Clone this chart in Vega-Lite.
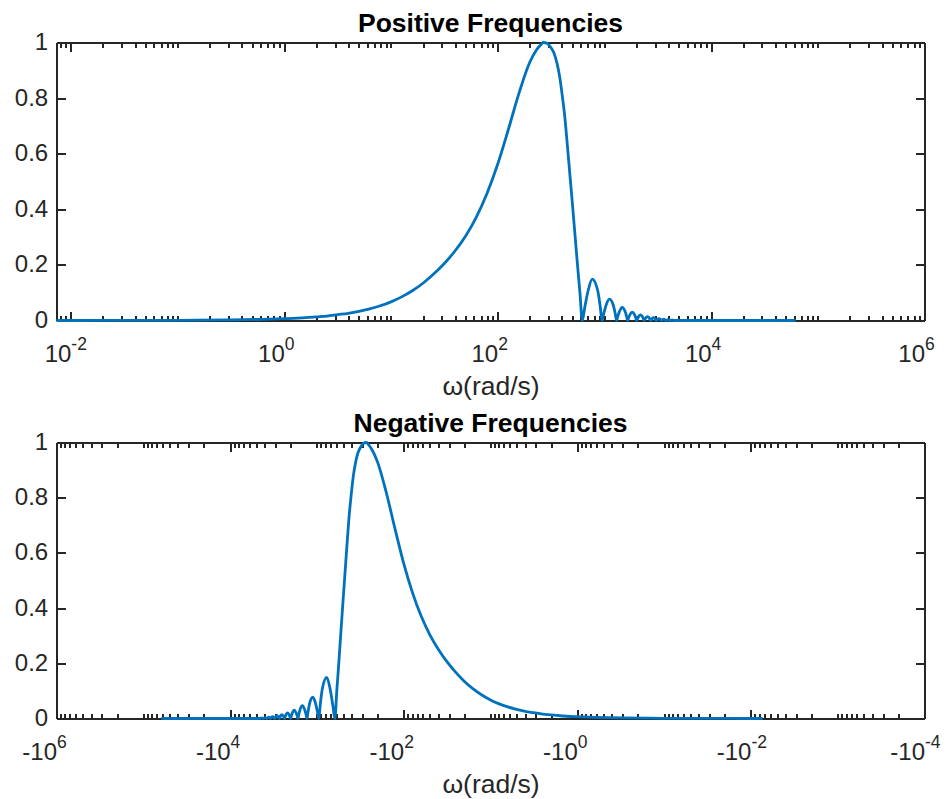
{
  "$schema": "https://vega.github.io/schema/vega-lite/v6.json",
  "background": "white",
  "padding": {"left": 13.5, "top": 10.5, "right": 5, "bottom": 5},
  "spacing": 122,
  "bounds": "flush",
  "config": {
    "font": "Liberation Sans",
    "view": {"stroke": null},
    "line": {"interpolate": "monotone"},
    "axis": {
      "grid": false,
      "domainColor": "#262626",
      "domainWidth": 2,
      "tickColor": "#262626",
      "tickWidth": 2,
      "labelColor": "#262626",
      "labelFont": "Liberation Sans",
      "labelFontSize": 24,
      "labelFlush": false,
      "labelOverlap": false,
      "titleFont": "Liberation Sans",
      "titleFontSize": 26.5,
      "titleFontWeight": "normal",
      "titleColor": "#262626"
    },
    "title": {"font": "Liberation Sans", "fontSize": 26.5, "fontWeight": "bold", "color": "#000000", "baseline": "alphabetic", "offset": -7.3, "anchor": "middle", "frame": "group"}
  },
  "datasets": {
    "spectrum": [
      {"w": 0.00734, "mag": 0.00005}, {"w": 0.01, "mag": 0.00007}, {"w": 0.03, "mag": 0.0002}, {"w": 0.1, "mag": 0.0007},
      {"w": 0.316, "mag": 0.002}, {"w": 0.631, "mag": 0.0042}, {"w": 1, "mag": 0.0065}, {"w": 1.585, "mag": 0.010},
      {"w": 2, "mag": 0.013}, {"w": 2.512, "mag": 0.016}, {"w": 3.162, "mag": 0.021}, {"w": 3.981, "mag": 0.026},
      {"w": 5.012, "mag": 0.033}, {"w": 6.31, "mag": 0.042}, {"w": 7.943, "mag": 0.053}, {"w": 10, "mag": 0.067},
      {"w": 12.59, "mag": 0.085}, {"w": 15.85, "mag": 0.107}, {"w": 19.95, "mag": 0.134}, {"w": 25.12, "mag": 0.167},
      {"w": 31.62, "mag": 0.205}, {"w": 39.81, "mag": 0.25}, {"w": 50.12, "mag": 0.304}, {"w": 63.1, "mag": 0.372},
      {"w": 79.43, "mag": 0.457}, {"w": 100, "mag": 0.562}, {"w": 125.9, "mag": 0.687}, {"w": 158.5, "mag": 0.818},
      {"w": 199.5, "mag": 0.928}, {"w": 230, "mag": 0.972}, {"w": 251.2, "mag": 0.99}, {"w": 268, "mag": 1.0},
      {"w": 290, "mag": 0.997}, {"w": 315, "mag": 0.982}, {"w": 337, "mag": 0.962}, {"w": 360, "mag": 0.925},
      {"w": 380, "mag": 0.88}, {"w": 404, "mag": 0.806}, {"w": 425, "mag": 0.735}, {"w": 450, "mag": 0.63},
      {"w": 475, "mag": 0.525}, {"w": 501, "mag": 0.422}, {"w": 530, "mag": 0.31}, {"w": 558, "mag": 0.206},
      {"w": 590, "mag": 0.1}, {"w": 621, "mag": 0},
      {"w": 654, "mag": 0.046}, {"w": 703, "mag": 0.106}, {"w": 770, "mag": 0.149}, {"w": 868, "mag": 0.106}, {"w": 917, "mag": 0.046}, {"w": 950, "mag": 0},
      {"w": 985, "mag": 0.024}, {"w": 1037, "mag": 0.055}, {"w": 1115, "mag": 0.077}, {"w": 1212, "mag": 0.055}, {"w": 1265, "mag": 0.024}, {"w": 1300, "mag": 0},
      {"w": 1335, "mag": 0.015}, {"w": 1387, "mag": 0.033}, {"w": 1465, "mag": 0.047}, {"w": 1562, "mag": 0.033}, {"w": 1615, "mag": 0.015}, {"w": 1650, "mag": 0},
      {"w": 1685, "mag": 0.009}, {"w": 1739, "mag": 0.021}, {"w": 1820, "mag": 0.03}, {"w": 1916, "mag": 0.021}, {"w": 1970, "mag": 0.009}, {"w": 2005, "mag": 0},
      {"w": 2093, "mag": 0.014}, {"w": 2175, "mag": 0.02}, {"w": 2271, "mag": 0.014}, {"w": 2360, "mag": 0},
      {"w": 2447, "mag": 0.01}, {"w": 2530, "mag": 0.014}, {"w": 2622, "mag": 0.01}, {"w": 2710, "mag": 0},
      {"w": 2797, "mag": 0.007}, {"w": 2880, "mag": 0.01}, {"w": 2972, "mag": 0.007}, {"w": 3060, "mag": 0},
      {"w": 3150, "mag": 0.005}, {"w": 3240, "mag": 0.007}, {"w": 3330, "mag": 0.005}, {"w": 3420, "mag": 0},
      {"w": 3600, "mag": 0.005}, {"w": 3780, "mag": 0}, {"w": 3960, "mag": 0.0035}, {"w": 4140, "mag": 0},
      {"w": 4320, "mag": 0.0025}, {"w": 4500, "mag": 0}, {"w": 5000, "mag": 0}, {"w": 10000, "mag": 0},
      {"w": 30000, "mag": 0}, {"w": 62000, "mag": 0}
    ]
  },
  "vconcat": [
    {
      "width": 868,
      "height": 278,
      "title": "Positive Frequencies",
      "data": {"name": "spectrum"},
      "resolve": {"axis": {"x": "independent", "y": "independent"}},
      "layer": [
        {
          "mark": {"type": "line", "color": "#0072BD", "strokeWidth": 2.8, "strokeJoin": "round"},
          "encoding": {
            "x": {"field": "w", "type": "quantitative",
              "scale": {"type": "log", "domain": [0.00734, 1000000], "nice": false},
              "axis": {"orient": "bottom", "values": [0.01, 1, 100, 10000, 1000000], "tickSize": -9,
                "labelExpr": "'10'", "labelAlign": "right", "labelDx": 5,
                "labelBaseline": "alphabetic", "labelPadding": 50,
                "title": "ω(rad/s)", "titleBaseline": "alphabetic", "titleY": 74}},
            "y": {"field": "mag", "type": "quantitative",
              "scale": {"domain": [0, 1], "nice": false, "zero": false},
              "axis": {"orient": "left", "values": [0, 0.2, 0.4, 0.6, 0.8, 1], "format": ".1~f", "tickSize": -9, "labelPadding": 17.8, "title": null}}
          }
        },
        {
          "mark": {"type": "line", "opacity": 0},
          "encoding": {
            "x": {"field": "w", "type": "quantitative",
              "scale": {"type": "log", "domain": [0.00734, 1000000], "nice": false},
              "axis": {"orient": "bottom", "domain": false, "title": null, "values": [0.01, 1, 100, 10000, 1000000], "tickSize": -9, "tickOpacity": 0,
                "labelExpr": "datum.value < 0.1 ? '-2' : datum.value < 10 ? '0' : datum.value < 1000 ? '2' : datum.value < 100000 ? '4' : '6'",
                "labelFontSize": 17.5, "labelAlign": "left", "labelDx": 5, "labelBaseline": "alphabetic", "labelPadding": 38.3}},
            "y": {"field": "mag", "type": "quantitative", "scale": {"domain": [0, 1], "nice": false, "zero": false}, "axis": null}
          }
        },
        {
          "mark": {"type": "line", "opacity": 0},
          "encoding": {
            "x": {"field": "w", "type": "quantitative",
              "scale": {"type": "log", "domain": [0.00734, 1000000], "nice": false},
              "axis": {"orient": "bottom", "domain": false, "labels": false, "title": null, "tickSize": -5,
                "values": [0.008, 0.009, 0.02, 0.03, 0.04, 0.05, 0.06, 0.07, 0.08, 0.09, 0.1, 0.2, 0.3, 0.4, 0.5, 0.6, 0.7, 0.8, 0.9, 2, 3, 4, 5, 6, 7, 8, 9, 10, 20, 30, 40, 50, 60, 70, 80, 90, 200, 300, 400, 500, 600, 700, 800, 900, 1000, 2000, 3000, 4000, 5000, 6000, 7000, 8000, 9000, 20000, 30000, 40000, 50000, 60000, 70000, 80000, 90000, 100000, 200000, 300000, 400000, 500000, 600000, 700000, 800000, 900000]}},
            "y": {"field": "mag", "type": "quantitative",
              "scale": {"domain": [0, 1], "nice": false, "zero": false},
              "axis": {"orient": "right", "values": [0, 0.2, 0.4, 0.6, 0.8, 1], "labels": false, "tickSize": -9, "title": null}}
          }
        },
        {
          "mark": {"type": "line", "opacity": 0},
          "encoding": {
            "x": {"field": "w", "type": "quantitative",
              "scale": {"type": "log", "domain": [0.00734, 1000000], "nice": false},
              "axis": {"orient": "top", "labels": false, "title": null, "tickSize": -9, "values": [0.01, 1, 100, 10000, 1000000]}},
            "y": {"field": "mag", "type": "quantitative", "scale": {"domain": [0, 1], "nice": false, "zero": false}, "axis": null}
          }
        },
        {
          "mark": {"type": "line", "opacity": 0},
          "encoding": {
            "x": {"field": "w", "type": "quantitative",
              "scale": {"type": "log", "domain": [0.00734, 1000000], "nice": false},
              "axis": {"orient": "top", "domain": false, "labels": false, "title": null, "tickSize": -5,
                "values": [0.008, 0.009, 0.02, 0.03, 0.04, 0.05, 0.06, 0.07, 0.08, 0.09, 0.1, 0.2, 0.3, 0.4, 0.5, 0.6, 0.7, 0.8, 0.9, 2, 3, 4, 5, 6, 7, 8, 9, 10, 20, 30, 40, 50, 60, 70, 80, 90, 200, 300, 400, 500, 600, 700, 800, 900, 1000, 2000, 3000, 4000, 5000, 6000, 7000, 8000, 9000, 20000, 30000, 40000, 50000, 60000, 70000, 80000, 90000, 100000, 200000, 300000, 400000, 500000, 600000, 700000, 800000, 900000]}},
            "y": {"field": "mag", "type": "quantitative", "scale": {"domain": [0, 1], "nice": false, "zero": false}, "axis": null}
          }
        }
      ]
    },
    {
      "width": 868,
      "height": 276,
      "title": "Negative Frequencies",
      "data": {"name": "spectrum"},
      "resolve": {"axis": {"x": "independent", "y": "independent"}},
      "layer": [
        {
          "mark": {"type": "line", "color": "#0072BD", "strokeWidth": 2.8, "strokeJoin": "round"},
          "encoding": {
            "x": {"field": "w", "type": "quantitative",
              "scale": {"type": "log", "domain": [0.0001, 1000000], "nice": false, "reverse": true},
              "axis": {"orient": "bottom", "values": [0.0001, 0.01, 1, 100, 10000, 1000000], "tickSize": -9,
                "labelExpr": "'-10'", "labelAlign": "right", "labelDx": 4,
                "labelBaseline": "alphabetic", "labelPadding": 50,
                "title": "ω(rad/s)", "titleBaseline": "alphabetic", "titleY": 74}},
            "y": {"field": "mag", "type": "quantitative",
              "scale": {"domain": [0, 1], "nice": false, "zero": false},
              "axis": {"orient": "left", "values": [0, 0.2, 0.4, 0.6, 0.8, 1], "format": ".1~f", "tickSize": -9, "labelPadding": 17.8, "title": null}}
          }
        },
        {
          "mark": {"type": "line", "opacity": 0},
          "encoding": {
            "x": {"field": "w", "type": "quantitative",
              "scale": {"type": "log", "domain": [0.0001, 1000000], "nice": false, "reverse": true},
              "axis": {"orient": "bottom", "domain": false, "title": null, "values": [0.0001, 0.01, 1, 100, 10000, 1000000], "tickSize": -9, "tickOpacity": 0,
                "labelExpr": "datum.value < 0.001 ? '-4' : datum.value < 0.1 ? '-2' : datum.value < 10 ? '0' : datum.value < 1000 ? '2' : datum.value < 100000 ? '4' : '6'",
                "labelFontSize": 17.5, "labelAlign": "left", "labelDx": 5, "labelBaseline": "alphabetic", "labelPadding": 38.3}},
            "y": {"field": "mag", "type": "quantitative", "scale": {"domain": [0, 1], "nice": false, "zero": false}, "axis": null}
          }
        },
        {
          "mark": {"type": "line", "opacity": 0},
          "encoding": {
            "x": {"field": "w", "type": "quantitative",
              "scale": {"type": "log", "domain": [0.0001, 1000000], "nice": false, "reverse": true},
              "axis": {"orient": "bottom", "domain": false, "labels": false, "title": null, "tickSize": -5,
                "values": [0.0002, 0.0003, 0.0004, 0.0005, 0.0006, 0.0007, 0.0008, 0.0009, 0.001, 0.002, 0.003, 0.004, 0.005, 0.006, 0.007, 0.008, 0.009, 0.02, 0.03, 0.04, 0.05, 0.06, 0.07, 0.08, 0.09, 0.1, 0.2, 0.3, 0.4, 0.5, 0.6, 0.7, 0.8, 0.9, 2, 3, 4, 5, 6, 7, 8, 9, 10, 20, 30, 40, 50, 60, 70, 80, 90, 200, 300, 400, 500, 600, 700, 800, 900, 1000, 2000, 3000, 4000, 5000, 6000, 7000, 8000, 9000, 20000, 30000, 40000, 50000, 60000, 70000, 80000, 90000, 100000, 200000, 300000, 400000, 500000, 600000, 700000, 800000, 900000]}},
            "y": {"field": "mag", "type": "quantitative",
              "scale": {"domain": [0, 1], "nice": false, "zero": false},
              "axis": {"orient": "right", "values": [0, 0.2, 0.4, 0.6, 0.8, 1], "labels": false, "tickSize": -9, "title": null}}
          }
        },
        {
          "mark": {"type": "line", "opacity": 0},
          "encoding": {
            "x": {"field": "w", "type": "quantitative",
              "scale": {"type": "log", "domain": [0.0001, 1000000], "nice": false, "reverse": true},
              "axis": {"orient": "top", "labels": false, "title": null, "tickSize": -9, "values": [0.0001, 0.01, 1, 100, 10000, 1000000]}},
            "y": {"field": "mag", "type": "quantitative", "scale": {"domain": [0, 1], "nice": false, "zero": false}, "axis": null}
          }
        },
        {
          "mark": {"type": "line", "opacity": 0},
          "encoding": {
            "x": {"field": "w", "type": "quantitative",
              "scale": {"type": "log", "domain": [0.0001, 1000000], "nice": false, "reverse": true},
              "axis": {"orient": "top", "domain": false, "labels": false, "title": null, "tickSize": -5,
                "values": [0.0002, 0.0003, 0.0004, 0.0005, 0.0006, 0.0007, 0.0008, 0.0009, 0.001, 0.002, 0.003, 0.004, 0.005, 0.006, 0.007, 0.008, 0.009, 0.02, 0.03, 0.04, 0.05, 0.06, 0.07, 0.08, 0.09, 0.1, 0.2, 0.3, 0.4, 0.5, 0.6, 0.7, 0.8, 0.9, 2, 3, 4, 5, 6, 7, 8, 9, 10, 20, 30, 40, 50, 60, 70, 80, 90, 200, 300, 400, 500, 600, 700, 800, 900, 1000, 2000, 3000, 4000, 5000, 6000, 7000, 8000, 9000, 20000, 30000, 40000, 50000, 60000, 70000, 80000, 90000, 100000, 200000, 300000, 400000, 500000, 600000, 700000, 800000, 900000]}},
            "y": {"field": "mag", "type": "quantitative", "scale": {"domain": [0, 1], "nice": false, "zero": false}, "axis": null}
          }
        }
      ]
    }
  ]
}
